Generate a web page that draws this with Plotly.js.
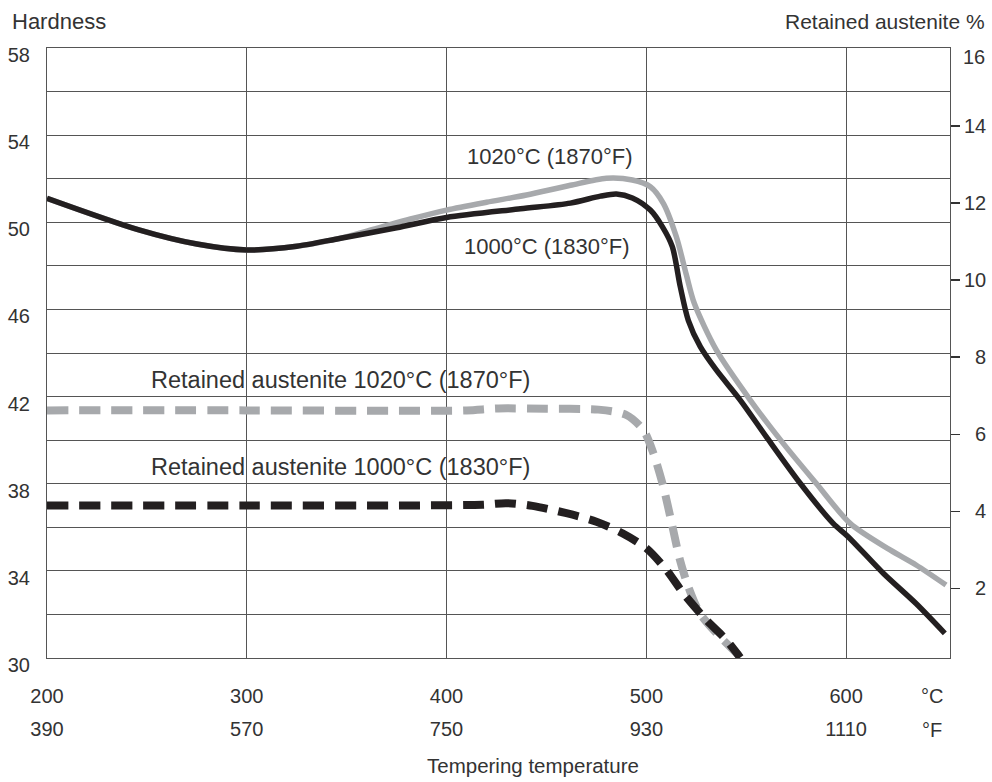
<!DOCTYPE html>
<html>
<head>
<meta charset="utf-8">
<script src="https://cdn.plot.ly/plotly-3.0.1.min.js"></script>
<style>html,body{margin:0;padding:0;background:#fff}#chart{width:992px;height:782px}</style>
</head>
<body>
<div id="chart"></div>
<script>
// Tempering temperature (°C) and hardness (HRC)
const tempHard1000 = [200, 246, 275, 300, 325, 347, 375, 400, 437, 462, 477, 485, 493, 502, 508, 513, 517, 521, 527, 535, 547, 560, 577, 593.5, 601, 618.6, 635, 649.4];
const hard1000     = [51.1, 49.65, 49.0, 48.73, 48.9, 49.27, 49.75, 50.22, 50.62, 50.88, 51.2, 51.3, 51.12, 50.56, 49.8, 48.88, 47.04, 45.5, 44.29, 43.22, 41.84, 40.16, 38.02, 36.18, 35.57, 33.89, 32.5, 31.13];

const tempHard1020 = [200, 246, 275, 300, 325, 347, 365, 382, 400, 420, 440, 462, 480, 493, 502, 508.5, 515, 520, 524, 535, 552, 568.5, 585, 602, 622, 635, 650];
const hard1020     = [51.1, 49.65, 49.0, 48.73, 48.9, 49.27, 49.72, 50.15, 50.56, 50.92, 51.25, 51.7, 52.02, 51.94, 51.63, 50.87, 49.34, 47.6, 46.28, 44.14, 41.84, 39.85, 38.02, 36.18, 34.96, 34.27, 33.35];

// Retained austenite (%)
const tempRA1020 = [200, 300, 376, 410, 426, 450, 476, 490, 498.5, 503.5, 508.5, 512.7, 516.8, 521, 526.8, 535.2, 543.5, 547];
const ra1020     = [6.62, 6.62, 6.61, 6.62, 6.67, 6.66, 6.64, 6.5, 6.11, 5.51, 4.64, 3.69, 2.74, 2.04, 1.35, 0.83, 0.40, 0.22];

const tempRA1000 = [200, 300, 376, 418, 430, 443, 460, 475, 488, 500, 510, 518.5, 530, 540, 547];
const ra1000     = [4.15, 4.15, 4.15, 4.17, 4.21, 4.14, 3.95, 3.73, 3.43, 3.04, 2.48, 1.87, 1.18, 0.66, 0.2];

// Axis ticks
const cTicks = [200, 300, 400, 500, 600];
const fTicks = ['390', '570', '750', '930', '1110'];
const hardTicks = [30, 32, 34, 36, 38, 40, 42, 44, 46, 48, 50, 52, 54, 56, 58];
const hardTickText = ['30', '', '34', '', '38', '', '42', '', '46', '', '50', '', '54', '', '58'];
const raTicks = [2, 4, 6, 8, 10, 12, 14];
const raTickText = ['\u20072', '\u20074', '\u20076', '\u20078', '10', '12', '14'];

const BLACK = '#231f20';
const GRAY = '#a7a9ac';
const GRID = '#555555';
const TEXT = '#333333';
const FONT = 'Liberation Sans, Arial, sans-serif';

const traces = [
  {x: tempHard1020, y: hard1020, mode: 'lines', line: {color: GRAY, width: 5.5, shape: 'spline', smoothing: 0.8}, xaxis: 'x', yaxis: 'y', showlegend: false, hoverinfo: 'skip'},
  {x: tempHard1000, y: hard1000, mode: 'lines', line: {color: BLACK, width: 5.5, shape: 'spline', smoothing: 0.8}, xaxis: 'x', yaxis: 'y', showlegend: false, hoverinfo: 'skip'},
  {x: tempRA1020, y: ra1020, mode: 'lines', line: {color: GRAY, width: 8, dash: '21px,11px', shape: 'spline', smoothing: 0.8}, xaxis: 'x', yaxis: 'y2', showlegend: false, hoverinfo: 'skip'},
  {x: tempRA1000, y: ra1000, mode: 'lines', line: {color: BLACK, width: 8, dash: '21px,11px', shape: 'spline', smoothing: 0.8}, xaxis: 'x', yaxis: 'y2', showlegend: false, hoverinfo: 'skip'},
  {x: [], y: [], mode: 'lines', xaxis: 'x2', yaxis: 'y', showlegend: false, hoverinfo: 'skip'}
];

const layout = {
  width: 992, height: 782,
  margin: {l: 47, r: 42, t: 48, b: 124},
  paper_bgcolor: '#ffffff', plot_bgcolor: '#ffffff',
  font: {family: FONT, size: 20, color: TEXT},
  showlegend: false,
  xaxis: {
    range: [200, 652], tickvals: cTicks, ticktext: cTicks.map(String),
    showgrid: true, gridcolor: GRID, gridwidth: 1,
    showline: true, mirror: true, linecolor: GRID, linewidth: 1,
    ticks: '', zeroline: false, ticklabelstandoff: 20,
    tickfont: {family: FONT, size: 20, color: TEXT}
  },
  xaxis2: {
    overlaying: 'x', anchor: 'y', side: 'bottom',
    range: [200, 652], tickvals: cTicks, ticktext: fTicks,
    showgrid: false, showline: false, ticks: '', zeroline: false,
    ticklabelstandoff: 57,
    tickfont: {family: FONT, size: 20, color: TEXT}
  },
  yaxis: {
    range: [30, 58], tickvals: hardTicks, ticktext: hardTickText,
    showgrid: true, gridcolor: GRID, gridwidth: 1,
    showline: true, mirror: true, linecolor: GRID, linewidth: 1,
    ticks: '', zeroline: false, ticklabelstandoff: 12, ticklabelshift: 7,
    tickfont: {family: FONT, size: 20, color: TEXT}
  },
  yaxis2: {
    overlaying: 'y', side: 'right', anchor: 'x',
    range: [0.19, 16.03], tickvals: raTicks, ticktext: raTickText,
    showgrid: false, showline: true, linecolor: GRID, linewidth: 1, zeroline: false,
    ticks: 'outside', ticklen: 9, tickcolor: '#333333', tickwidth: 1.5,
    tickfont: {family: FONT, size: 20, color: TEXT}
  },
  annotations: [
    {text: 'Hardness', xref: 'paper', yref: 'paper', x: -0.041, y: 1, yshift: 27, xanchor: 'left', yanchor: 'middle', showarrow: false, font: {size: 22, color: TEXT}},
    {text: 'Retained austenite %', xref: 'paper', yref: 'paper', x: 1.0405, y: 1, yshift: 27, xanchor: 'right', yanchor: 'middle', showarrow: false, font: {size: 21, color: TEXT}},
    {text: '16', xref: 'paper', yref: 'paper', x: 1.0405, y: 1, yshift: -9, xanchor: 'right', yanchor: 'middle', showarrow: false, font: {size: 20, color: TEXT}},
    {text: 'Tempering temperature', xref: 'paper', yref: 'paper', x: 0.5385, y: 0, yshift: -107, xanchor: 'center', yanchor: 'middle', showarrow: false, font: {size: 20.5, color: TEXT}},
    {text: '°C', xref: 'x', yref: 'paper', x: 643, y: 0, yshift: -38, xanchor: 'center', yanchor: 'middle', showarrow: false, font: {size: 20, color: TEXT}},
    {text: '°F', xref: 'x', yref: 'paper', x: 643, y: 0, yshift: -72, xanchor: 'center', yanchor: 'middle', showarrow: false, font: {size: 20, color: TEXT}},
    {text: '1020°C (1870°F)', xref: 'x', yref: 'y', x: 494.3, y: 53.01, xanchor: 'right', yanchor: 'middle', showarrow: false, font: {size: 22, color: TEXT}},
    {text: '1000°C (1830°F)', xref: 'x', yref: 'y', x: 492.6, y: 48.91, xanchor: 'right', yanchor: 'middle', showarrow: false, font: {size: 22, color: TEXT}},
    {text: 'Retained austenite 1020°C (1870°F)', xref: 'x', yref: 'y', x: 442.7, y: 42.76, xanchor: 'right', yanchor: 'middle', showarrow: false, font: {size: 23.5, color: TEXT}},
    {text: 'Retained austenite 1000°C (1830°F)', xref: 'x', yref: 'y', x: 442.7, y: 38.77, xanchor: 'right', yanchor: 'middle', showarrow: false, font: {size: 23.5, color: TEXT}}
  ]
};

Plotly.newPlot('chart', traces, layout, {staticPlot: true, displayModeBar: false});
</script>
</body>
</html>
